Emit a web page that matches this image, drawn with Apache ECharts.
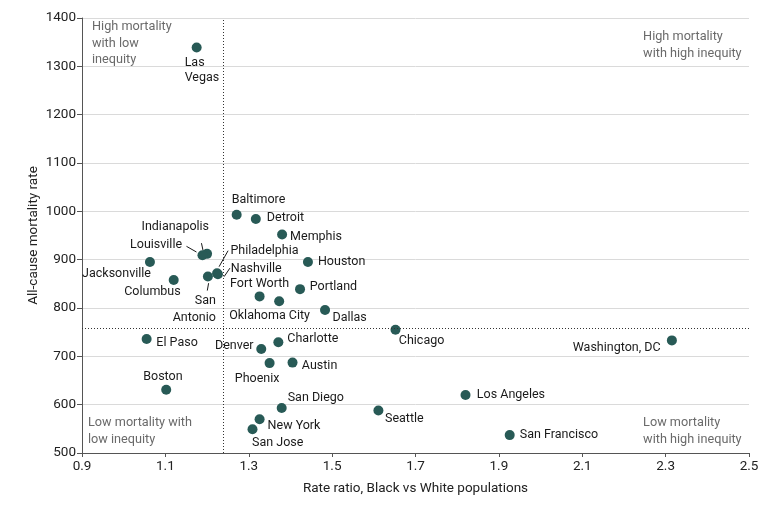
<!DOCTYPE html>
<html><head><meta charset="utf-8">
<script src="https://cdn.jsdelivr.net/npm/echarts@6/dist/echarts.min.js"></script>
<style>html,body{margin:0;padding:0;background:#fff}#c{width:783px;height:507px}</style>
</head><body><div id="c"></div>
<script>
// ---- data ----
const cities = ['Las Vegas','Baltimore','Detroit','Memphis','Houston','Indianapolis','Louisville','Jacksonville','Columbus','San Antonio','Philadelphia','Nashville','Fort Worth','Oklahoma City','Portland','Dallas','El Paso','Denver','Charlotte','Phoenix','Austin','Boston','San Diego','New York','San Jose','Chicago','Washington, DC','Los Angeles','Seattle','San Francisco'];
const rateRatio = [1.175,1.271,1.317,1.380,1.442,1.200,1.189,1.063,1.120,1.202,1.224,1.226,1.326,1.373,1.423,1.483,1.055,1.330,1.371,1.350,1.405,1.102,1.379,1.326,1.309,1.652,2.315,1.820,1.611,1.926];
const mortality = [1339,993,984,952,895,912,909,895,858,865,872,870,824,814,839,796,736,715,729,686,687,631,593,570,549,755,733,620,588,537];
const xTicks = [0.9,1.1,1.3,1.5,1.7,1.9,2.1,2.3,2.5];
const yMin = 500, yMax = 1400, yStep = 100;
const refRatio = 1.237;      // vertical dotted reference
const refMortality = 758;    // horizontal dotted reference
const quadrantText = ['High mortality\nwith low\ninequity','High mortality\nwith high inequity','Low mortality with\nlow inequity','Low mortality\nwith high inequity'];
const quadrantAnchor = [[0.9,1400],[2.246,1400],[0.9,500],[2.246,500]];

// ---- label layout (styles/positions, pixel offsets from the dot) ----
const labelText = {'Las Vegas':'Las\nVegas','San Antonio':'San\nAntonio'};
const lay = {
 'Las Vegas':['left','top',-12,7.5,15],
 'Baltimore':['left','middle',-5,-15],
 'Detroit':['left','middle',11,-1],
 'Memphis':['left','middle',8,2],
 'Houston':['left','middle',10,0],
 'Indianapolis':['right','middle',2,-27],
 'Louisville':['right','middle',-20.4,-10.7],
 'Jacksonville':['right','middle',1,12],
 'Columbus':['right','middle',7,12],
 'San Antonio':['right','top',8,15.5,17],
 'Philadelphia':['left','middle',13.4,-22.5],
 'Nashville':['left','middle',12.9,-4.9],
 'Fort Worth':['center','middle',0,-12.6],
 'Oklahoma City':['center','middle',-9.6,14.4],
 'Portland':['left','middle',9.7,-2.3],
 'Dallas':['left','middle',7.4,8],
 'El Paso':['left','middle',9.7,4.3],
 'Denver':['right','middle',-7.7,-3],
 'Charlotte':['left','middle',9,-3.3],
 'Phoenix':['center','middle',-12.5,15.3],
 'Austin':['left','middle',9.3,3.4],
 'Boston':['center','middle',-3.3,-13.3],
 'San Diego':['left','middle',6,-10],
 'New York':['left','middle',8,6.3],
 'San Jose':['left','middle',-0.4,13.7],
 'Chicago':['left','middle',3.3,11.6],
 'Washington, DC':['right','middle',-11.3,7.4],
 'Los Angeles':['left','middle',11.3,0],
 'Seattle':['left','middle',6.6,8.7],
 'San Francisco':['left','middle',10,0]
};
const leaders = {
 'Indianapolis':[[-5.6,-10.7],[-4,-3.3]],
 'Louisville':[[-16,-9],[-6,-3.3]],
 'Philadelphia':[[2,-6.5],[11,-22.5]],
 'Nashville':[[6.2,2.5],[12,-6]],
 'San Antonio':[[0.7,6.6],[-0.6,14]]
};
const quadLay = [['left',10,1],['left',0,11],['left',6,-38],['left',0,-38]];

const FONT = 'Roboto';
const pts = cities.map((c,i)=>{
  const L = lay[c];
  const label = {align:L[0], verticalAlign:L[1], offset:[L[2], L[3]]};
  if (L[4]) label.lineHeight = L[4];
  return {name:c, value:[rateRatio[i], mortality[i]], label};
});
const leaderIdx = cities.map((c,i)=>i).filter(i=>leaders[cities[i]]);

const chart = echarts.init(document.getElementById('c'), null, {renderer:'canvas'});
chart.setOption({
  animation:false,
  backgroundColor:'#fff',
  grid:{left:82, right:34, top:18, bottom:54},
  xAxis:{
    type:'value', min:xTicks[0], max:xTicks[xTicks.length-1],
    name:'Rate ratio, Black vs White populations', nameLocation:'middle', nameGap:29, nameMoveOverlap:false,
    nameTextStyle:{fontFamily:FONT, fontSize:13.5, color:'#222'},
    axisLine:{show:true, lineStyle:{color:'#555', width:1}},
    axisTick:{show:true, length:4, lineStyle:{color:'#555'}, customValues:xTicks},
    axisLabel:{fontFamily:FONT, fontSize:13.5, color:'#222', margin:7, customValues:xTicks, formatter:v=>v.toFixed(1)},
    splitLine:{show:false}
  },
  yAxis:{
    type:'value', min:yMin, max:yMax, interval:yStep,
    name:'All-cause mortality rate', nameLocation:'middle', nameGap:41, nameMoveOverlap:false,
    nameTextStyle:{fontFamily:FONT, fontSize:13.5, color:'#222'},
    axisLine:{show:true, lineStyle:{color:'#555', width:1}},
    axisTick:{show:true, length:5, lineStyle:{color:'#555'}},
    axisLabel:{fontFamily:FONT, fontSize:13.5, color:'#222', margin:6, formatter:v=>String(v)},
    splitLine:{show:true, lineStyle:{color:'#dadada', width:1}}
  },
  series:[
    {
      type:'scatter', symbolSize:10, z:3,
      itemStyle:{color:'#285a56', opacity:1},
      label:{show:true, position:'inside', fontFamily:FONT, fontSize:12.5, color:'#1a1a1a', lineHeight:16,
        formatter:p=>labelText[p.name]||p.name},
      data:pts,
      markLine:{
        silent:true, symbol:'none', animation:false,
        label:{show:false},
        lineStyle:{type:[1,2], color:'#333', width:1},
        data:[{xAxis:refRatio},{yAxis:refMortality}]
      }
    },
    {
      type:'custom', z:2, silent:true,
      data:leaderIdx.map(i=>[rateRatio[i], mortality[i]]),
      renderItem:(params, api)=>{
        const p = api.coord([api.value(0), api.value(1)]);
        const L = leaders[cities[leaderIdx[params.dataIndex]]];
        return {type:'line', shape:{x1:p[0]+L[0][0], y1:p[1]+L[0][1], x2:p[0]+L[1][0], y2:p[1]+L[1][1]},
          style:{stroke:'#1a1a1a', lineWidth:1}};
      }
    },
    {
      type:'custom', z:2, silent:true,
      data:quadrantAnchor,
      renderItem:(params, api)=>{
        const p = api.coord([api.value(0), api.value(1)]);
        const q = quadLay[params.dataIndex];
        return {type:'text', x:p[0]+q[1], y:p[1]+q[2],
          style:{text:quadrantText[params.dataIndex], fill:'#6a6a6a', font:'12.7px '+FONT, align:q[0], verticalAlign:'top', lineHeight:16.5}};
      }
    }
  ]
});
</script></body></html>
